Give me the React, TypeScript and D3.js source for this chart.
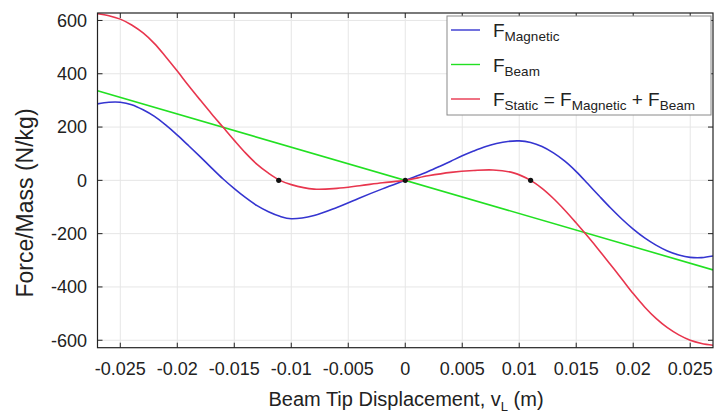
import React from "react";
import * as d3 from "d3";

const W = 714;
const H = 413;

// Displacement (m) / Force per mass (N/kg)
const magneticX = [-0.027, -0.026, -0.025, -0.024, -0.023, -0.022, -0.021, -0.02, -0.019, -0.018, -0.017, -0.016, -0.015, -0.014, -0.013, -0.012, -0.011, -0.01, -0.008, -0.006, -0.004, -0.002, 0, 0.001, 0.002, 0.003, 0.004, 0.005, 0.006, 0.007, 0.008, 0.009, 0.01, 0.011, 0.012, 0.013, 0.014, 0.015, 0.016, 0.017, 0.018, 0.019, 0.02, 0.021, 0.022, 0.023, 0.024, 0.025, 0.026, 0.027];
const magneticY = [287, 293, 293, 284, 265, 240, 207, 170, 130, 89, 47, 6, -31, -65, -95, -118, -135, -144, -132, -102, -66, -32, 0, 16, 33, 52, 72, 92, 110, 126, 138, 146, 148, 142, 127, 103, 72, 33, -12, -58, -103, -145, -183, -216, -243, -265, -280, -289, -290, -284];

const beamX = [-0.027, 0.027];
const beamY = [336, -336];

const staticX = [-0.027, -0.026, -0.025, -0.024, -0.023, -0.022, -0.021, -0.02, -0.019, -0.018, -0.017, -0.016, -0.015, -0.014, -0.013, -0.012, -0.011, -0.01, -0.008, -0.006, -0.004, -0.002, 0, 0.002, 0.004, 0.006, 0.0077, 0.0095, 0.011, 0.012, 0.013, 0.014, 0.015, 0.016, 0.017, 0.018, 0.019, 0.02, 0.021, 0.022, 0.023, 0.024, 0.025, 0.026, 0.027];
const staticY = [625, 618, 605, 583, 553, 513, 463, 410, 355, 302, 250, 200, 150, 102, 60, 27, 0, -16, -33, -30, -20, -9, 0, 17, 30, 37, 39, 28, 0, -30, -68, -112, -160, -210, -262, -316, -370, -425, -475, -518, -553, -580, -600, -612, -619];

const equilibriumX = [-0.0111, 0, 0.011];
const equilibriumY = [0, 0, 0];

const xTicks = [-0.025, -0.02, -0.015, -0.01, -0.005, 0, 0.005, 0.01, 0.015, 0.02, 0.025];
const xTickLabels = ["-0.025", "-0.02", "-0.015", "-0.01", "-0.005", "0", "0.005", "0.01", "0.015", "0.02", "0.025"];
const yTicks = [-600, -400, -200, 0, 200, 400, 600];
const yTickLabels = ["-600", "-400", "-200", "0", "200", "400", "600"];

const FONT = "'Liberation Sans', Arial, Helvetica, sans-serif";
const BLUE = "#3535d0";
const GREEN = "#22e022";
const RED = "#e8364e";

export default function App() {
  const left = 97.5, right = 713, top = 13, bottom = 347.7;
  const x = d3.scaleLinear().domain([-0.027, 0.027]).range([left, right]);
  const y = d3.scaleLinear().domain([-628, 628]).range([bottom, top]);

  const mk = (xs: number[], ys: number[]) => xs.map((v, i) => [v, ys[i]] as [number, number]);
  const line = d3
    .line<[number, number]>()
    .x((d) => x(d[0]))
    .y((d) => y(d[1]))
    .curve(d3.curveCatmullRom.alpha(0.5));

  const tickLen = 5;

  return (
    <svg
      width={W}
      height={H}
      style={{ position: "absolute", left: 0, top: 0, background: "#fff" }}
      fontFamily={FONT}
    >
      <rect x={0} y={0} width={W} height={H} fill="#fff" />
      {/* grid */}
      {xTicks.map((t, i) => (
        <line key={"gx" + i} x1={x(t)} x2={x(t)} y1={top} y2={bottom} stroke="#e6e6e6" strokeWidth={1} />
      ))}
      {yTicks.map((t, i) => (
        <line key={"gy" + i} x1={left} x2={right} y1={y(t)} y2={y(t)} stroke="#e6e6e6" strokeWidth={1} />
      ))}

      <defs>
        <clipPath id="plotclip">
          <rect x={left} y={top} width={right - left} height={bottom - top} />
        </clipPath>
      </defs>

      <g clipPath="url(#plotclip)">
        <path d={line(mk(beamX, beamY)) || ""} fill="none" stroke={GREEN} strokeWidth={1.6} />
        <path d={line(mk(magneticX, magneticY)) || ""} fill="none" stroke={BLUE} strokeWidth={1.6} />
        <path d={line(mk(staticX, staticY)) || ""} fill="none" stroke={RED} strokeWidth={1.6} />
        {equilibriumX.map((v, i) => (
          <circle key={"eq" + i} cx={x(v)} cy={y(equilibriumY[i])} r={2.6} fill="#111" />
        ))}
      </g>

      {/* ticks inward on all sides */}
      {xTicks.map((t, i) => (
        <g key={"tx" + i}>
          <line x1={x(t)} x2={x(t)} y1={bottom} y2={bottom - tickLen} stroke="#222" />
          <line x1={x(t)} x2={x(t)} y1={top} y2={top + tickLen} stroke="#222" />
          <text x={x(t)} y={375} textAnchor="middle" fontSize={18} fill="#222">
            {xTickLabels[i]}
          </text>
        </g>
      ))}
      {yTicks.map((t, i) => (
        <g key={"ty" + i}>
          <line x1={left} x2={left + tickLen} y1={y(t)} y2={y(t)} stroke="#222" />
          <line x1={right} x2={right - tickLen} y1={y(t)} y2={y(t)} stroke="#222" />
          <text x={87} y={y(t)} dy="0.35em" textAnchor="end" fontSize={18} fill="#222">
            {yTickLabels[i]}
          </text>
        </g>
      ))}

      <rect x={left} y={top} width={right - left} height={bottom - top} fill="none" stroke="#222" strokeWidth={1.2} />

      {/* legend */}
      <g>
        <rect x={447} y={16} width={264} height={99} fill="#fff" stroke="#8a8a8a" strokeWidth={1} />
        <line x1={451} x2={480} y1={30} y2={30} stroke={BLUE} strokeWidth={1.4} />
        <line x1={451} x2={480} y1={64.5} y2={64.5} stroke={GREEN} strokeWidth={1.4} />
        <line x1={451} x2={480} y1={99} y2={99} stroke={RED} strokeWidth={1.4} />
        <text x={493} y={37} fontSize={19} fill="#222">
          F<tspan fontSize={13.5} dy={4}>Magnetic</tspan>
        </text>
        <text x={493} y={71.5} fontSize={19} fill="#222">
          F<tspan fontSize={13.5} dy={4}>Beam</tspan>
        </text>
        <text x={493} y={106} fontSize={19} fill="#222">
          F<tspan fontSize={13.5} dy={4}>Static</tspan>
          <tspan dy={-4}>{" = F"}</tspan>
          <tspan fontSize={13.5} dy={4}>Magnetic</tspan>
          <tspan dy={-4}>{" + F"}</tspan>
          <tspan fontSize={13.5} dy={4}>Beam</tspan>
        </text>
      </g>

      {/* axis titles */}
      <text x={406} y={406} textAnchor="middle" fontSize={20} fill="#222">
        Beam Tip Displacement, v<tspan fontSize={13} dy={5}>L</tspan>
        <tspan dy={-5}>{"  (m)"}</tspan>
      </text>
      <text
        transform={`translate(25,${203}) rotate(-90)`}
        textAnchor="middle"
        dy="0.35em"
        fontSize={23}
        fill="#222"
      >
        Force/Mass (N/kg)
      </text>
    </svg>
  );
}
